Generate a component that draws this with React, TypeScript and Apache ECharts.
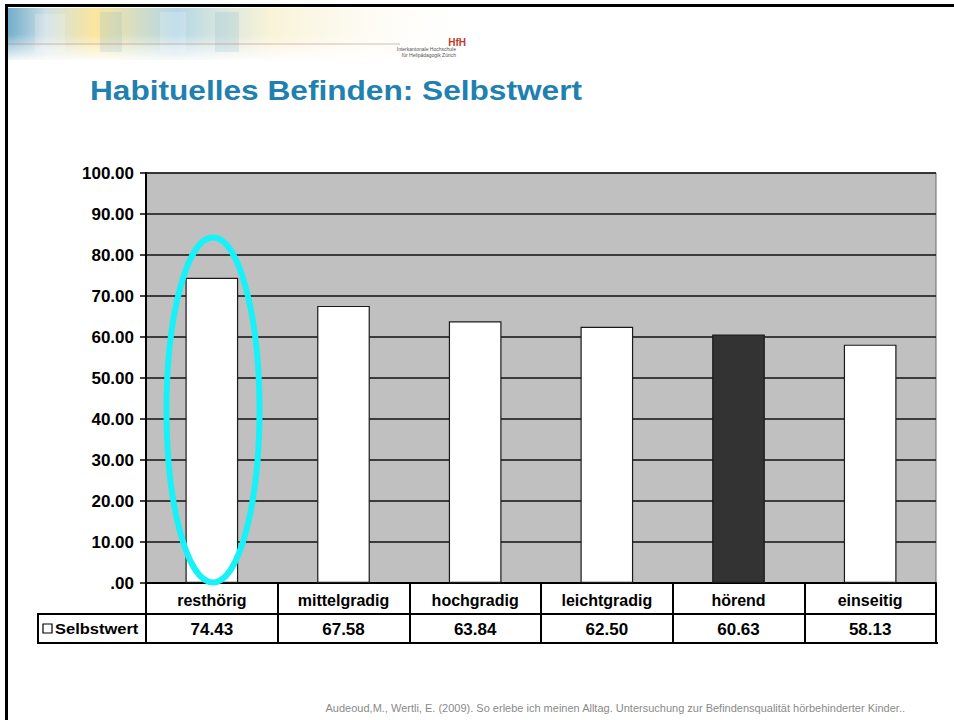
import React, { useEffect, useRef } from "react";
import * as echarts from "echarts";

const categories = ["resthörig", "mittelgradig", "hochgradig", "leichtgradig", "hörend", "einseitig"];
const values = [74.43, 67.58, 63.84, 62.5, 60.63, 58.13];
const valueLabels = ["74.43", "67.58", "63.84", "62.50", "60.63", "58.13"];
const highlight = "hörend";
const seriesName = "Selbstwert";
const title = "Habituelles Befinden: Selbstwert";
const footer = "Audeoud,M., Wertli, E. (2009). So erlebe ich meinen Alltag. Untersuchung zur Befindensqualität hörbehinderter Kinder..";

const FONT = "'Liberation Sans', Arial, sans-serif";

export default function App() {
  const ref = useRef<HTMLDivElement>(null);
  useEffect(() => {
    if (!ref.current) return;
    const chart = echarts.init(ref.current, null, { renderer: "svg" });
    const gl = 146, gr = 936, gt = 173, gb = 583;
    chart.setOption({
      animation: false,
      backgroundColor: "#ffffff",
      grid: {
        left: gl, right: 954 - gr, top: gt, bottom: 720 - gb,
        show: true, backgroundColor: "#c0c0c0", borderColor: "#6a6a6a", borderWidth: 1,
      },
      xAxis: [
        {
          type: "category",
          data: categories,
          position: "bottom",
          axisLine: { show: true, lineStyle: { color: "#000", width: 2 } },
          axisTick: { show: true, length: 60, lineStyle: { color: "#000", width: 2 } },
          axisLabel: {
            margin: 17, verticalAlign: "middle", color: "#000",
            fontFamily: FONT, fontWeight: "bold", fontSize: 16, interval: 0,
          },
          splitLine: { show: false },
        },
        {
          type: "category",
          data: categories,
          position: "bottom",
          axisLine: { show: false },
          axisTick: { show: false },
          axisLabel: {
            margin: 46, verticalAlign: "middle", color: "#000",
            fontFamily: FONT, fontWeight: "bold", fontSize: 17, interval: 0,
            formatter: (_v: string, i: number) => valueLabels[i],
          },
        },
      ],
      yAxis: {
        type: "value",
        min: 0, max: 100, interval: 10,
        axisLine: { show: true, lineStyle: { color: "#000", width: 2 } },
        axisTick: { show: true, length: 6, lineStyle: { color: "#000", width: 1.5 } },
        axisLabel: {
          margin: 12, color: "#000", fontFamily: FONT, fontWeight: "bold", fontSize: 17,
          formatter: (v: number) => (v === 0 ? ".00" : v.toFixed(2)),
        },
        splitLine: { show: true, lineStyle: { color: "#111", width: 1.5 } },
      },
      series: [
        {
          type: "bar",
          name: seriesName,
          xAxisIndex: 0,
          barWidth: "40%",
          data: categories.map((c, i) => ({
            value: values[i],
            itemStyle: {
              color: c === highlight ? "#333333" : "#ffffff",
              borderColor: "#1a1a1a", borderWidth: 1.2,
            },
          })),
        },
      ],
      graphic: [
        // header banner
        {
          type: "rect", shape: { x: 8, y: 8, width: 480, height: 52 }, silent: true,
          style: {
            fill: new echarts.graphic.LinearGradient(0, 0, 1, 0, [
              { offset: 0, color: "rgba(90,160,195,0.85)" },
              { offset: 0.08, color: "rgba(200,220,225,0.9)" },
              { offset: 0.18, color: "rgba(250,225,140,0.85)" },
              { offset: 0.35, color: "rgba(160,205,225,0.8)" },
              { offset: 0.55, color: "rgba(245,235,190,0.6)" },
              { offset: 1, color: "rgba(255,255,255,0)" },
            ]),
          },
        },
        {
          type: "rect", shape: { x: 8, y: 34, width: 480, height: 26 }, silent: true,
          style: {
            fill: new echarts.graphic.LinearGradient(0, 0, 0, 1, [
              { offset: 0, color: "rgba(255,255,255,0)" },
              { offset: 1, color: "rgba(255,255,255,0.9)" },
            ]),
          },
        },
        { type: "rect", shape: { x: 35, y: 14, width: 30, height: 38 }, silent: true, style: { fill: "rgba(255,255,255,0.2)" } },
        { type: "rect", shape: { x: 100, y: 12, width: 22, height: 40 }, silent: true, style: { fill: "rgba(120,180,210,0.18)" } },
        { type: "rect", shape: { x: 160, y: 12, width: 26, height: 40 }, silent: true, style: { fill: "rgba(255,255,255,0.2)" } },
        { type: "rect", shape: { x: 215, y: 12, width: 24, height: 40 }, silent: true, style: { fill: "rgba(110,175,210,0.18)" } },
        { type: "line", shape: { x1: 8, y1: 44, x2: 400, y2: 44 }, silent: true, style: { stroke: "rgba(190,120,110,0.5)", lineWidth: 1 } },
        { type: "text", x: 466, y: 42, silent: true, style: { text: "HfH", fill: "#c0392b", font: `bold 10px ${FONT}`, textAlign: "right", textVerticalAlign: "middle" } },
        { type: "text", x: 456, y: 49, silent: true, style: { text: "Interkantonale Hochschule", fill: "#555", font: `5px ${FONT}`, textAlign: "right", textVerticalAlign: "middle" } },
        { type: "text", x: 456, y: 55, silent: true, style: { text: "für Heilpädagogik Zürich", fill: "#555", font: `5px ${FONT}`, textAlign: "right", textVerticalAlign: "middle" } },
        // frame
        { type: "line", shape: { x1: 5, y1: 5.5, x2: 954, y2: 5.5 }, silent: true, style: { stroke: "#000", lineWidth: 3 } },
        { type: "line", shape: { x1: 6.5, y1: 4, x2: 6.5, y2: 720 }, silent: true, style: { stroke: "#000", lineWidth: 3 } },
        // title
        {
          type: "text", x: 90, y: 90, scaleX: 1.13, silent: true,
          style: { text: title, fill: "#2080b0", font: `bold 28px ${FONT}`, textVerticalAlign: "middle" },
        },
        // table lines
        { type: "line", shape: { x1: 38, y1: 614, x2: gr, y2: 614 }, silent: true, style: { stroke: "#000", lineWidth: 2 } },
        { type: "line", shape: { x1: 38, y1: 643, x2: gr + 2, y2: 643 }, silent: true, style: { stroke: "#000", lineWidth: 2 } },
        { type: "line", shape: { x1: 38, y1: 613, x2: 38, y2: 644 }, silent: true, style: { stroke: "#000", lineWidth: 2 } },
        // legend
        { type: "rect", shape: { x: 43, y: 624, width: 9, height: 9 }, silent: true, style: { fill: "#fff", stroke: "#000", lineWidth: 1.2 } },
        { type: "text", x: 55, y: 629, scaleX: 1.1, silent: true, style: { text: seriesName, fill: "#000", font: `bold 15px ${FONT}`, textVerticalAlign: "middle" } },
        // highlight ellipse
        {
          type: "ellipse", shape: { cx: 213, cy: 410, rx: 46.5, ry: 172.5 }, silent: true, z: 100,
          style: { fill: "none", stroke: "#19f1f9", lineWidth: 6 },
        },
        // footer
        {
          type: "text", x: 905, y: 708, silent: true,
          style: { text: footer, fill: "#8a8a8a", font: `11px ${FONT}`, textAlign: "right", textVerticalAlign: "middle" },
        },
      ],
    });
    return () => chart.dispose();
  }, []);
  return <div ref={ref} style={{ position: "fixed", left: 0, top: 0, width: 954, height: 720 }} />;
}
